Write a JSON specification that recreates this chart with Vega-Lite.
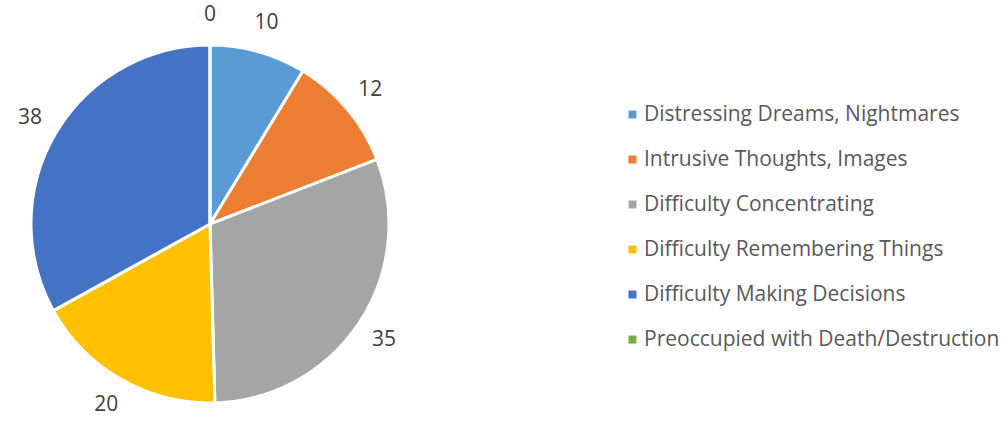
{
  "$schema": "https://vega.github.io/schema/vega-lite/v6.json",
  "autosize": {"type": "none"},
  "width": 420,
  "height": 394,
  "padding": {"left": 0, "top": 27, "right": 588, "bottom": 0},
  "background": "white",
  "config": {"view": {"stroke": null}, "font": "Open Sans"},
  "data": {
    "values": [
      {"symptom": "Distressing Dreams, Nightmares", "count": 10, "rank": 1},
      {"symptom": "Intrusive Thoughts, Images", "count": 12, "rank": 2},
      {"symptom": "Difficulty Concentrating", "count": 35, "rank": 3},
      {"symptom": "Difficulty Remembering Things", "count": 20, "rank": 4},
      {"symptom": "Difficulty Making Decisions", "count": 38, "rank": 5},
      {"symptom": "Preoccupied with Death/Destruction", "count": 0, "rank": 6}
    ]
  },
  "encoding": {
    "theta": {"field": "count", "type": "quantitative", "stack": true},
    "order": {"field": "rank", "type": "quantitative"},
    "color": {
      "field": "symptom",
      "type": "nominal",
      "scale": {
        "domain": ["Distressing Dreams, Nightmares", "Intrusive Thoughts, Images", "Difficulty Concentrating", "Difficulty Remembering Things", "Difficulty Making Decisions", "Preoccupied with Death/Destruction"],
        "range": ["#5B9BD5", "#ED7D31", "#A5A5A5", "#FFC000", "#4472C4", "#70AD47"]
      },
      "legend": {
        "title": null,
        "orient": "none",
        "legendX": 622,
        "legendY": 77,
        "symbolType": "square",
        "symbolSize": 64,
        "symbolStrokeWidth": 0,
        "labelFontSize": 21,
        "labelColor": "#595959",
        "labelFont": "Open Sans",
        "labelLimit": 420,
        "rowPadding": 23,
        "labelOffset": 1
      }
    }
  },
  "layer": [
    {
      "mark": {"type": "arc", "outerRadius": 179, "stroke": "white", "strokeWidth": 3}
    },
    {
      "mark": {"type": "text", "radius": 209, "fontSize": 21, "font": "Open Sans"},
      "encoding": {
        "text": {"field": "count", "type": "quantitative"},
        "color": {"value": "#404040"}
      }
    }
  ]
}
